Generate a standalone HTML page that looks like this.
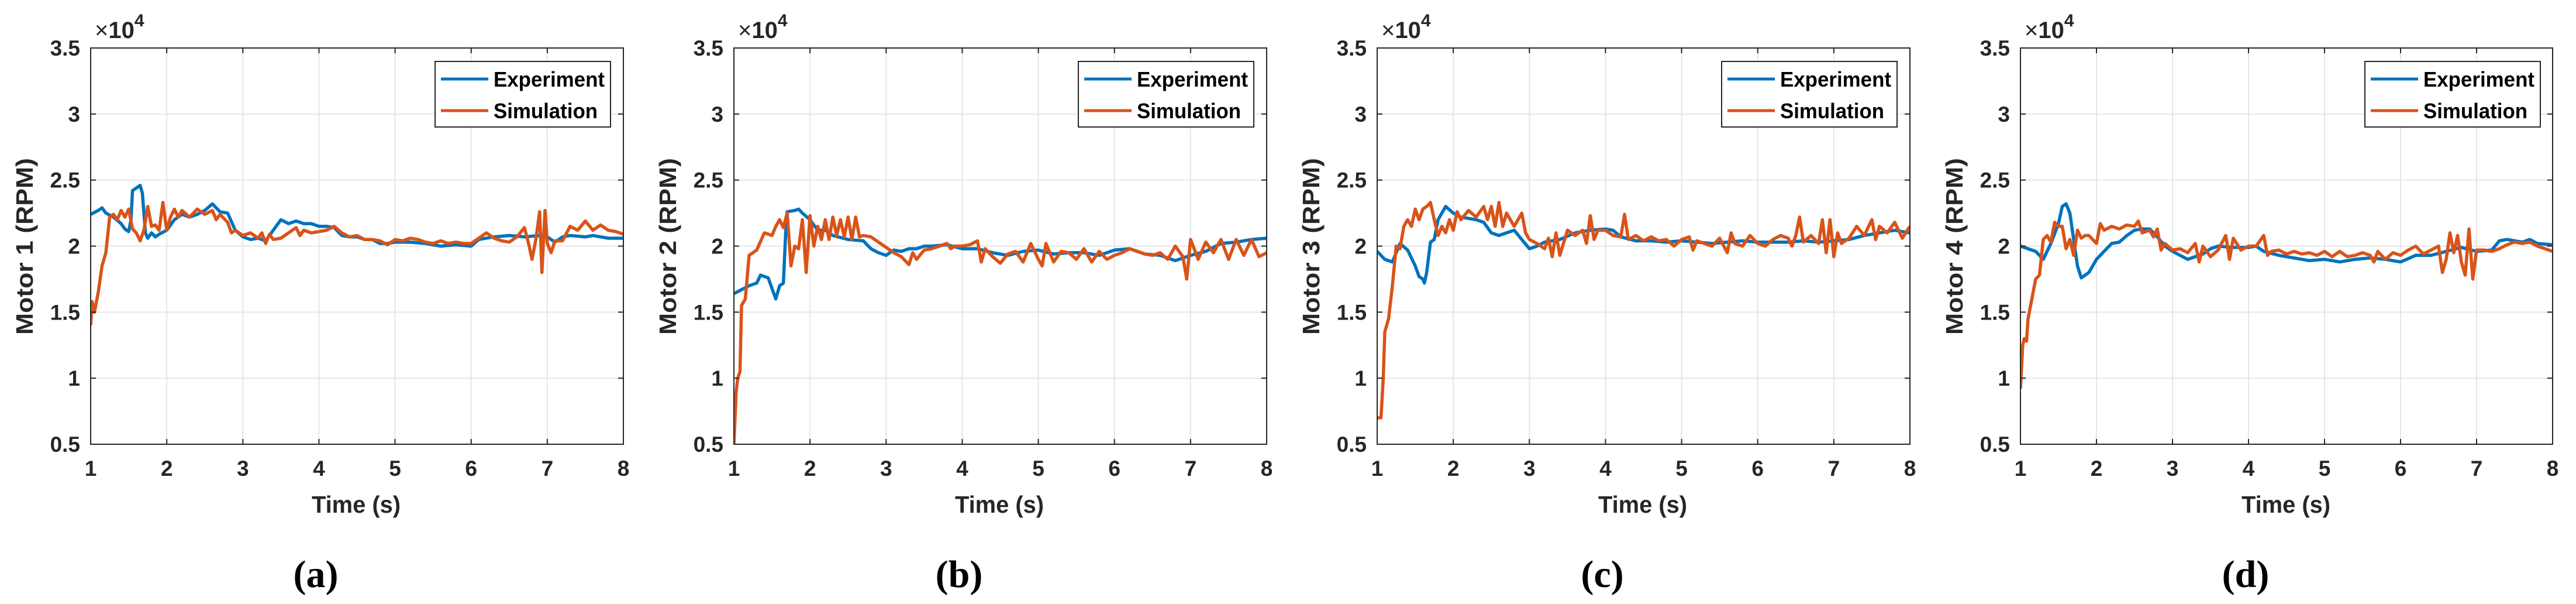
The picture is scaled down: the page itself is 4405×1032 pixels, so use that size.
<!DOCTYPE html>
<html><head><meta charset="utf-8"><style>
html,body{margin:0;padding:0;background:#fff;}
svg{display:block;}
</style></head><body>
<svg id="fig" width="4405" height="1032" viewBox="0 0 4405 1032" xmlns="http://www.w3.org/2000/svg"></svg>
<script>
const panelLabels = ["(a)","(b)","(c)","(d)"];
const yTitles = ["Motor 1 (RPM)","Motor 2 (RPM)","Motor 3 (RPM)","Motor 4 (RPM)"];
const xTicks = [1,2,3,4,5,6,7,8];
const yTicks = [0.5,1,1.5,2,2.5,3,3.5];
const yTickLabels = ["0.5","1","1.5","2","2.5","3","3.5"];

const expT1 = [1.0,1.1,1.15,1.2,1.3,1.4,1.45,1.5,1.53,1.55,1.6,1.65,1.68,1.72,1.75,1.8,1.85,1.9,2.0,2.1,2.2,2.3,2.4,2.5,2.6,2.7,2.8,2.9,3.0,3.1,3.2,3.3,3.4,3.5,3.6,3.7,3.8,3.9,4.0,4.1,4.2,4.3,4.4,4.5,4.6,4.7,4.8,4.9,5.0,5.2,5.4,5.6,5.8,6.0,6.1,6.3,6.5,6.7,6.9,7.0,7.1,7.2,7.3,7.5,7.6,7.8,8.0];
const expV1 = [2.24,2.27,2.29,2.25,2.22,2.17,2.13,2.11,2.20,2.42,2.44,2.46,2.40,2.10,2.06,2.10,2.07,2.09,2.12,2.20,2.24,2.22,2.24,2.27,2.32,2.26,2.25,2.12,2.07,2.05,2.06,2.04,2.12,2.20,2.17,2.19,2.17,2.17,2.15,2.15,2.14,2.08,2.07,2.07,2.05,2.05,2.02,2.02,2.03,2.03,2.02,2.00,2.01,2.00,2.05,2.07,2.08,2.07,2.08,2.07,2.03,2.07,2.08,2.07,2.08,2.06,2.06];
const simT1 = [1.0,1.02,1.05,1.1,1.15,1.2,1.25,1.3,1.35,1.4,1.45,1.5,1.55,1.6,1.65,1.7,1.75,1.8,1.85,1.9,1.95,2.0,2.05,2.1,2.15,2.2,2.3,2.4,2.5,2.6,2.65,2.7,2.8,2.85,2.9,3.0,3.1,3.2,3.25,3.3,3.35,3.4,3.5,3.6,3.7,3.75,3.8,3.9,4.0,4.1,4.2,4.3,4.4,4.5,4.6,4.7,4.8,4.9,5.0,5.1,5.2,5.3,5.4,5.5,5.6,5.7,5.8,5.9,6.0,6.1,6.2,6.3,6.4,6.5,6.6,6.7,6.75,6.8,6.85,6.9,6.93,6.97,7.0,7.05,7.1,7.2,7.3,7.4,7.5,7.6,7.7,7.8,7.9,8.0];
const simV1 = [1.40,1.58,1.50,1.65,1.85,1.95,2.22,2.24,2.20,2.27,2.22,2.28,2.13,2.10,2.04,2.12,2.30,2.15,2.16,2.12,2.33,2.12,2.22,2.28,2.22,2.27,2.22,2.28,2.24,2.27,2.20,2.24,2.18,2.10,2.12,2.08,2.10,2.06,2.10,2.02,2.09,2.05,2.06,2.10,2.14,2.08,2.12,2.10,2.11,2.12,2.15,2.10,2.07,2.08,2.05,2.05,2.04,2.01,2.05,2.04,2.06,2.05,2.03,2.02,2.04,2.02,2.03,2.02,2.02,2.06,2.10,2.06,2.04,2.03,2.07,2.14,2.03,1.90,2.05,2.26,1.80,2.27,2.02,1.95,2.04,2.04,2.15,2.12,2.19,2.12,2.16,2.12,2.11,2.09];

const expT2 = [1.0,1.2,1.3,1.35,1.45,1.5,1.55,1.6,1.65,1.68,1.7,1.8,1.85,1.9,2.0,2.1,2.2,2.3,2.5,2.7,2.8,2.9,3.0,3.1,3.2,3.3,3.4,3.5,3.6,3.8,4.0,4.2,4.4,4.6,4.8,5.0,5.2,5.4,5.6,5.8,6.0,6.2,6.4,6.6,6.8,7.0,7.2,7.4,7.6,7.8,8.0];
const expV2 = [1.64,1.70,1.72,1.78,1.76,1.68,1.60,1.70,1.72,2.10,2.26,2.27,2.28,2.25,2.20,2.12,2.12,2.08,2.05,2.04,1.98,1.95,1.93,1.97,1.96,1.98,1.98,2.00,2.00,2.01,1.98,1.98,1.95,1.93,1.96,1.97,1.94,1.95,1.95,1.93,1.97,1.98,1.94,1.93,1.89,1.93,1.96,2.02,2.03,2.05,2.06];
const simT2 = [1.0,1.03,1.05,1.08,1.1,1.15,1.2,1.3,1.4,1.5,1.55,1.6,1.65,1.7,1.75,1.8,1.85,1.9,1.95,2.0,2.05,2.1,2.15,2.2,2.25,2.3,2.35,2.4,2.45,2.5,2.55,2.6,2.65,2.7,2.8,2.9,3.0,3.1,3.2,3.3,3.35,3.4,3.5,3.6,3.7,3.8,3.85,3.9,4.0,4.1,4.2,4.25,4.3,4.4,4.5,4.6,4.7,4.8,4.9,5.0,5.05,5.1,5.2,5.3,5.4,5.5,5.6,5.7,5.8,5.9,6.0,6.1,6.2,6.3,6.4,6.5,6.6,6.7,6.8,6.9,6.95,7.0,7.1,7.2,7.3,7.4,7.5,7.6,7.7,7.8,7.9,8.0];
const simV2 = [0.5,0.9,1.0,1.05,1.55,1.60,1.93,1.97,2.10,2.08,2.15,2.20,2.14,2.25,1.85,2.00,1.98,2.20,1.80,2.23,2.00,2.15,2.05,2.20,2.05,2.22,2.08,2.20,2.07,2.22,2.05,2.22,2.07,2.08,2.07,2.03,1.99,1.95,1.92,1.86,1.95,1.90,1.97,1.98,2.00,2.02,1.98,2.00,2.00,2.01,2.04,1.88,1.98,1.92,1.87,1.94,1.96,1.88,2.02,1.90,1.85,2.02,1.88,1.96,1.95,1.90,1.98,1.88,1.96,1.90,1.93,1.95,1.98,1.96,1.94,1.93,1.95,1.90,2.00,1.92,1.75,2.05,1.90,2.03,1.95,2.05,1.90,2.05,1.93,2.05,1.92,1.95];

const expT3 = [1.0,1.1,1.2,1.3,1.4,1.5,1.55,1.6,1.62,1.65,1.7,1.75,1.8,1.9,2.0,2.1,2.3,2.4,2.5,2.6,2.7,2.8,2.9,3.0,3.1,3.2,3.4,3.6,3.8,4.0,4.1,4.2,4.4,4.6,4.8,5.0,5.2,5.4,5.6,5.8,6.0,6.2,6.4,6.6,6.8,7.0,7.2,7.4,7.6,7.8,8.0];
const expV3 = [1.96,1.90,1.88,2.02,1.97,1.85,1.77,1.75,1.72,1.80,2.03,2.05,2.20,2.30,2.25,2.22,2.20,2.18,2.10,2.08,2.10,2.12,2.05,1.98,2.00,2.03,2.05,2.10,2.12,2.13,2.12,2.07,2.04,2.04,2.03,2.04,2.03,2.02,2.03,2.04,2.03,2.03,2.03,2.04,2.03,2.04,2.05,2.08,2.10,2.12,2.10];
const simT3 = [1.0,1.05,1.08,1.1,1.15,1.2,1.25,1.3,1.35,1.4,1.45,1.5,1.55,1.6,1.65,1.7,1.75,1.8,1.85,1.9,1.95,2.0,2.05,2.1,2.2,2.3,2.4,2.45,2.5,2.55,2.6,2.65,2.7,2.8,2.9,2.95,3.0,3.1,3.2,3.25,3.3,3.35,3.4,3.5,3.6,3.7,3.75,3.8,3.85,3.9,4.0,4.1,4.2,4.25,4.3,4.4,4.5,4.6,4.7,4.8,4.9,5.0,5.1,5.15,5.2,5.3,5.4,5.5,5.6,5.65,5.7,5.8,5.9,6.0,6.1,6.2,6.3,6.4,6.45,6.5,6.55,6.6,6.7,6.8,6.85,6.9,6.95,7.0,7.05,7.1,7.2,7.3,7.4,7.5,7.55,7.6,7.7,7.8,7.9,8.0];
const simV3 = [0.70,0.70,1.00,1.35,1.45,1.70,2.00,1.98,2.15,2.20,2.15,2.28,2.20,2.28,2.30,2.33,2.20,2.08,2.15,2.10,2.20,2.12,2.26,2.20,2.27,2.22,2.30,2.20,2.30,2.15,2.33,2.15,2.25,2.15,2.25,2.10,2.05,2.02,1.98,2.06,1.92,2.10,1.93,2.12,2.08,2.12,2.02,2.23,2.05,2.12,2.12,2.08,2.07,2.24,2.05,2.08,2.04,2.07,2.04,2.05,2.00,2.05,2.07,1.97,2.04,2.02,2.00,2.06,1.95,2.10,2.02,2.00,2.08,2.02,2.00,2.05,2.08,2.06,2.00,2.08,2.22,2.03,2.08,2.02,2.20,1.95,2.20,1.92,2.10,2.02,2.06,2.15,2.08,2.20,2.05,2.15,2.10,2.18,2.06,2.15];

const expT4 = [1.0,1.1,1.2,1.3,1.4,1.5,1.55,1.6,1.65,1.7,1.75,1.8,1.85,1.9,2.0,2.1,2.2,2.3,2.4,2.5,2.6,2.7,2.8,2.9,3.0,3.1,3.2,3.4,3.5,3.6,3.8,4.0,4.1,4.2,4.4,4.6,4.8,5.0,5.2,5.4,5.6,5.8,6.0,6.2,6.4,6.6,6.8,7.0,7.2,7.3,7.4,7.6,7.7,7.8,8.0];
const expV4 = [2.00,1.98,1.96,1.90,2.02,2.17,2.30,2.32,2.25,2.05,1.85,1.76,1.78,1.80,1.90,1.96,2.02,2.03,2.08,2.12,2.13,2.13,2.07,2.00,1.96,1.93,1.90,1.94,1.98,2.00,1.99,1.99,2.00,1.96,1.93,1.91,1.89,1.90,1.88,1.90,1.91,1.90,1.88,1.93,1.93,1.96,1.99,1.96,1.97,2.04,2.05,2.03,2.05,2.02,2.01];
const simT4 = [1.0,1.03,1.05,1.08,1.1,1.15,1.2,1.25,1.3,1.35,1.4,1.45,1.5,1.55,1.6,1.65,1.7,1.75,1.8,1.85,1.9,2.0,2.05,2.1,2.2,2.3,2.4,2.5,2.55,2.6,2.7,2.75,2.8,2.85,2.9,3.0,3.1,3.2,3.3,3.35,3.4,3.5,3.6,3.7,3.75,3.8,3.9,4.0,4.1,4.2,4.25,4.3,4.4,4.5,4.6,4.7,4.8,4.9,5.0,5.1,5.2,5.3,5.4,5.5,5.6,5.65,5.7,5.8,5.9,6.0,6.1,6.2,6.3,6.4,6.5,6.55,6.6,6.65,6.7,6.75,6.8,6.85,6.9,6.95,7.0,7.1,7.2,7.3,7.4,7.5,7.6,7.7,7.8,7.9,8.0];
const simV4 = [0.92,1.25,1.30,1.28,1.45,1.60,1.75,1.78,2.05,2.08,2.03,2.18,2.15,2.15,1.98,2.05,1.93,2.12,2.06,2.08,2.08,2.02,2.17,2.12,2.15,2.13,2.16,2.15,2.19,2.10,2.12,2.07,2.13,1.97,2.02,1.97,1.98,1.95,2.02,1.88,2.00,1.92,1.97,2.08,1.90,2.06,1.97,2.00,2.00,2.08,1.93,1.96,1.97,1.94,1.96,1.94,1.95,1.93,1.96,1.92,1.96,1.92,1.93,1.95,1.93,1.88,1.96,1.90,1.95,1.93,1.97,2.00,1.94,1.97,2.00,1.80,1.90,2.10,1.95,2.08,1.88,1.78,2.13,1.75,1.97,1.97,1.96,1.98,2.01,2.03,2.02,2.03,2.00,1.98,1.96];

const expTimes = [expT1,expT2,expT3,expT4];
const expVals = [expV1,expV2,expV3,expV4];
const simTimes = [simT1,simT2,simT3,simT4];
const simVals = [simV1,simV2,simV3,simV4];

const NS = "http://www.w3.org/2000/svg";
const svg = document.getElementById('fig');
function mk(tag, attrs, parent, text){
  const e = document.createElementNS(NS, tag);
  for (const k in attrs) e.setAttribute(k, attrs[k]);
  if (text !== undefined) e.textContent = text;
  (parent||svg).appendChild(e);
  return e;
}
const SANS = '"Liberation Sans", "DejaVu Sans", sans-serif';
const SERIF = '"Liberation Serif", serif';
const offsets = [0,1100,2200,3300];
const widths = [911,911,911,910];
const TOP = 82, BOT = 759;

for (let p = 0; p < 4; p++) {
  const L = 155 + offsets[p], R = L + widths[p];
  const xs = t => L + (t - 1) / 7 * (R - L);
  const ys = v => BOT - (v - 0.5) / 3 * (BOT - TOP);
  const g = mk('g', {});
  
  

  const grid = mk('g', {stroke:'#e6e6e6','stroke-width':2}, g);
  
  
  xTicks.forEach(t => mk('line', {x1:xs(t), x2:xs(t), y1:TOP, y2:BOT}, grid));
  yTicks.forEach(v => mk('line', {x1:L, x2:R, y1:ys(v), y2:ys(v)}, grid));

  const series = [[expTimes[p], expVals[p], '#0072BD', 'experiment-line'], [simTimes[p], simVals[p], '#D95319', 'simulation-line']];
  const clipId = 'clip' + p;
  const cp = mk('clipPath', {id: clipId}, g);
  mk('rect', {x:L, y:TOP, width:R-L, height:BOT-TOP}, cp);
  series.forEach(([T, V, col, nm]) => {
    const d = T.map((t, i) => (i ? 'L' : 'M') + xs(t).toFixed(1) + ' ' + ys(V[i]).toFixed(1)).join(' ');
    const path = mk('path', {d:d, fill:'none', stroke:col, 'stroke-width':5.5, 'stroke-linejoin':'round', 'clip-path':'url(#' + clipId + ')'}, g);
    
    
  });

  const box = mk('rect', {x:L, y:TOP, width:R-L, height:BOT-TOP, fill:'none', stroke:'#262626', 'stroke-width':2}, g);
  
  
  const tk = mk('g', {stroke:'#262626','stroke-width':2}, g);
  xTicks.forEach(t => { mk('line', {x1:xs(t), x2:xs(t), y1:BOT, y2:BOT-9}, tk); mk('line', {x1:xs(t), x2:xs(t), y1:TOP, y2:TOP+9}, tk); });
  yTicks.forEach(v => { mk('line', {x1:L, x2:L+9, y1:ys(v), y2:ys(v)}, tk); mk('line', {x1:R, x2:R-9, y1:ys(v), y2:ys(v)}, tk); });

  xTicks.forEach(t => {
    const e = mk('text', {x:xs(t), y:813, 'text-anchor':'middle', 'font-family':SANS, 'font-weight':'bold', 'font-size':37, fill:'#262626'}, g, String(t));
    
    
  });
  yTicks.forEach((v, i) => {
    const e = mk('text', {x:L-18, y:ys(v)+13, 'text-anchor':'end', 'font-family':SANS, 'font-weight':'bold', 'font-size':37, fill:'#262626'}, g, yTickLabels[i]);
    
    
  });
  const ex = mk('text', {x:L+7, y:65, 'font-family':SANS, 'font-size':40, fill:'#262626'}, g);
  
  
  mk('tspan', {}, ex, '×');
  mk('tspan', {'font-weight':'bold'}, ex, '10');
  mk('tspan', {'font-weight':'bold', 'font-size':30, dy:-20}, ex, '4');

  const xt = mk('text', {x:offsets[p]+609, y:876, 'text-anchor':'middle', 'font-family':SANS, 'font-weight':'bold', 'font-size':41, fill:'#262626', textLength:152, lengthAdjust:'spacingAndGlyphs'}, g, 'Time (s)');
  
  
  const ytx = offsets[p] + 56, yty = 421;
  const yt = mk('text', {x:ytx, y:yty, 'text-anchor':'middle', 'font-family':SANS, 'font-weight':'bold', 'font-size':41, fill:'#262626', transform:'rotate(-90 ' + ytx + ' ' + yty + ')', textLength:302, lengthAdjust:'spacingAndGlyphs'}, g, yTitles[p]);
  
  

  const lg = mk('g', {}, g);
  
  
  const lx = offsets[p] + 744;
  mk('rect', {x:lx, y:105, width:300, height:112, fill:'#fff', stroke:'#262626', 'stroke-width':2}, lg);
  [['Experiment', '#0072BD', 135, 190], ['Simulation', '#D95319', 189, 178]].forEach(([lab, col, yy, tl]) => {
    const ent = mk('g', {}, lg);
    
    
    mk('line', {x1:lx+10, x2:lx+91, y1:yy, y2:yy, stroke:col, 'stroke-width':5}, ent);
    mk('text', {x:lx+100, y:yy+13, 'font-family':SANS, 'font-weight':'bold', 'font-size':36, fill:'#000', textLength:tl, lengthAdjust:'spacingAndGlyphs'}, ent, lab);
  });

  const cap = mk('text', {x:offsets[p]+540, y:1003, 'text-anchor':'middle', 'font-family':SERIF, 'font-weight':'bold', 'font-size':66, fill:'#000'}, g, panelLabels[p]);
  
  
}
</script>
</body></html>
